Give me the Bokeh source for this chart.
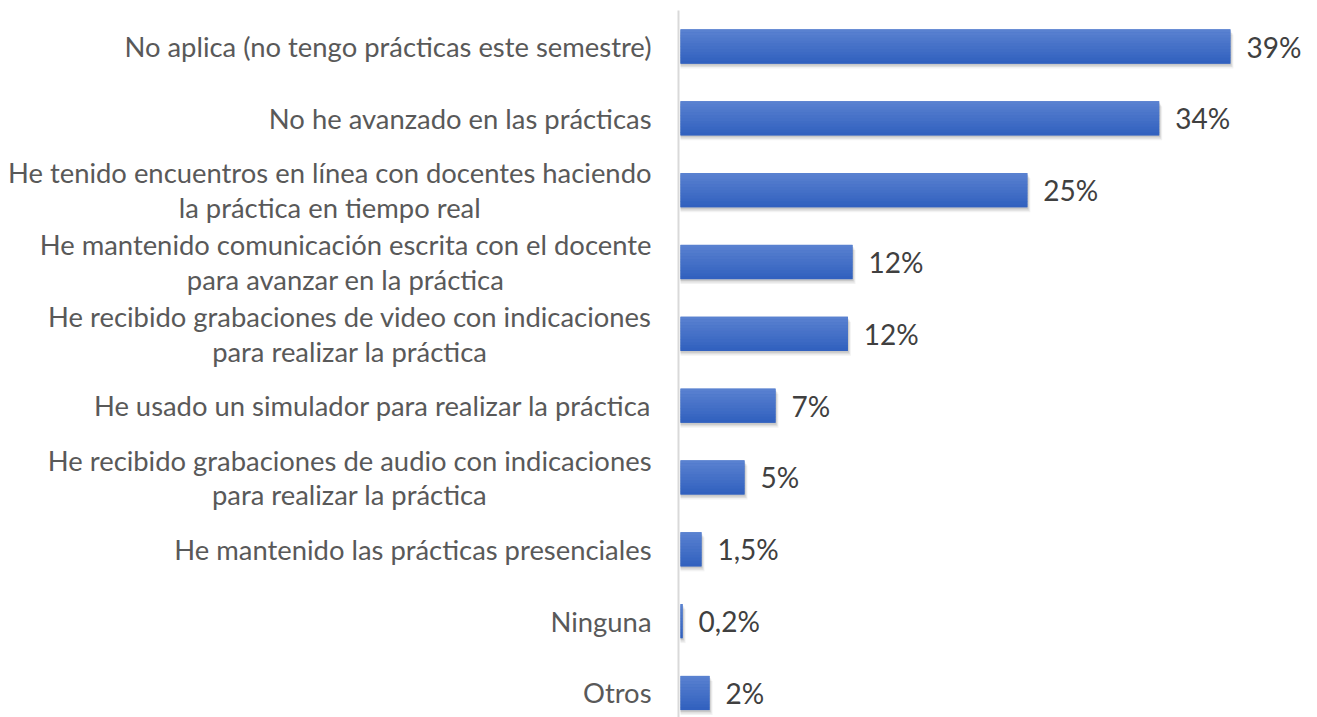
from bokeh.plotting import figure
from bokeh.models import Range1d, ColumnDataSource
from bokeh.core.properties import value
from bokeh.embed import file_html
from bokeh.resources import INLINE

categories = [
    "No aplica (no tengo prácticas este semestre)",
    "No he avanzado en las prácticas",
    "He tenido encuentros en línea con docentes haciendo\nla práctica en tiempo real",
    "He mantenido comunicación escrita con el docente\npara avanzar en la práctica",
    "He recibido grabaciones de video con indicaciones\npara realizar la práctica",
    "He usado un simulador para realizar la práctica",
    "He recibido grabaciones de audio con indicaciones\npara realizar la práctica",
    "He mantenido las prácticas presenciales",
    "Ninguna",
    "Otros",
]
values = [39.0, 33.95, 24.6, 12.2, 11.87, 6.74, 4.54, 1.49, 0.15, 2.06]
value_labels = ["39%", "34%", "25%", "12%", "12%", "7%", "5%", "1,5%", "0,2%", "2%"]

W, H = 1317, 717
X0_PX = 680          # canvas x of value 0
PX_PER_UNIT = 14.1
Y0_PX = 46           # canvas y of first category
PX_PER_CAT = 71.83

ypos = list(range(len(categories)))

p = figure(width=W, height=H, output_backend="svg", toolbar_location=None,
           x_range=Range1d(-X0_PX / PX_PER_UNIT, (W - X0_PX) / PX_PER_UNIT),
           y_range=Range1d((H - Y0_PX) / PX_PER_CAT, -Y0_PX / PX_PER_CAT),
           min_border=0, outline_line_color=None)
p.axis.visible = False
p.grid.visible = False
p.background_fill_color = "white"
p.border_fill_color = "white"

bar_h = 34 / PX_PER_CAT

src = ColumnDataSource(dict(y=ypos, v=values, lab=value_labels, cat=categories))

# soft shadow
for dy, dx, a in [(5, 3, 0.05), (3.5, 2, 0.08), (2, 1, 0.10)]:
    sh = ColumnDataSource(dict(y=[y + dy / PX_PER_CAT for y in ypos],
                               r=[v + dx / PX_PER_UNIT for v in values]))
    p.hbar(y="y", left=0, right="r", height=bar_h, source=sh,
           fill_color="black", fill_alpha=a, line_color=None)

# gradient bars
p.hbar(y="y", left=0, right="v", height=bar_h, source=src,
       fill_color="#4472c4", line_color=None)
top = (0x5b, 0x82, 0xd1)
bot = (0x30, 0x60, 0xbe)
N = 12
for k in range(N):
    t = (k + 0.5) / N
    c = tuple(int(round(top[i] + (bot[i] - top[i]) * t)) for i in range(3))
    col = "#%02x%02x%02x" % c
    bs = ColumnDataSource(dict(y=[y - bar_h / 2 + (k + 0.5) * bar_h / N for y in ypos], v=values))
    p.hbar(y="y", left=0, right="v", height=bar_h / N * 1.1, source=bs,
           fill_color=col, line_color=None)

# axis line
p.segment(x0=[-2 / PX_PER_UNIT], x1=[-2 / PX_PER_UNIT],
          y0=[-0.5], y1=[(H - Y0_PX) / PX_PER_CAT],
          line_color="#d9d9d9", line_width=2)

# category labels
p.text(x=0, y="y", text="cat", source=src, x_offset=-29,
       anchor="center_right", text_align="center", text_baseline="middle",
       text_font=value("Lato"), text_font_size="27.4px", text_color="#595959",
       text_line_height=1.05)

# value labels
p.text(x="v", y="y", text="lab", source=src, x_offset=16,
       text_align="left", text_baseline="middle",
       text_font=value("Lato"), text_font_size="28px", text_color="#404040")

open("out.html", "w").write(file_html(p, INLINE))
